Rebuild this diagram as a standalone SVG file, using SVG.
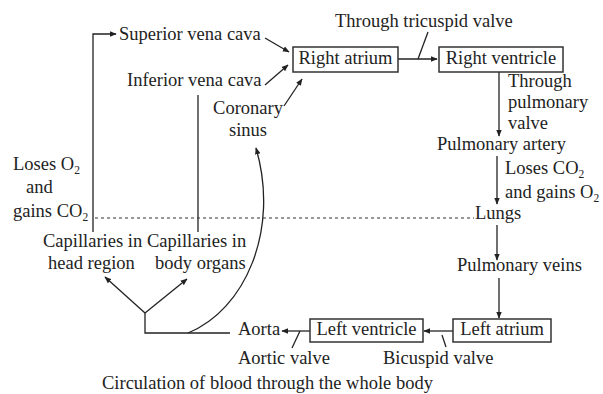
<svg xmlns="http://www.w3.org/2000/svg" width="603" height="394" viewBox="0 0 603 394">
<defs>
<marker id="ah" viewBox="0 0 10 10" refX="9" refY="5" markerWidth="7" markerHeight="7" markerUnits="userSpaceOnUse" orient="auto">
<path d="M0,1 L10,5 L0,9 Z" fill="#222"/>
</marker>
<style>
text{font-family:"Liberation Serif","Times New Roman",serif;font-size:18.5px;fill:#222}
.sub{font-size:11.5px}
.box{fill:#fff;stroke:#333;stroke-width:1.5}
.ln{fill:none;stroke:#222;stroke-width:1.3}
.arr{fill:none;stroke:#222;stroke-width:1.3;marker-end:url(#ah)}
.dot{fill:none;stroke:#333;stroke-width:1.2;stroke-dasharray:3,3}
</style>
</defs>
<rect width="603" height="394" fill="#fff"/>
<g id="connectors">
<path class="arr" d="M93,232 V34 H116"/>
<path class="ln" d="M198,95 V232"/>
<path class="arr" d="M265,38 L289,52"/>
<path class="arr" d="M265,85 L288,65"/>
<path class="arr" d="M284,106 L302,79"/>
<path class="arr" d="M398,59 L437,59"/>
<path class="ln" d="M428,32 L418,59"/>
<path class="arr" d="M499,72 V136"/>
<path class="arr" d="M497,156 V204"/>
<path class="arr" d="M497,225 V260"/>
<path class="arr" d="M499,278 V318"/>
<path class="arr" d="M453,331 H424"/>
<path class="ln" d="M442,335 L446,347"/>
<path class="arr" d="M310,331 H282"/>
<path class="ln" d="M300,331 L292,348"/>
<path class="ln" d="M230,333 H145 V313"/>
<path class="arr" d="M145,313 L105,277"/>
<path class="arr" d="M145,313 L187,279"/>
<path class="arr" d="M188,333 C245,310 280,230 256,148"/>
<path class="dot" d="M95,218 H474"/>
</g>
<g id="superior-vena-cava"><text x="119" y="40">Superior vena cava</text></g>
<g id="inferior-vena-cava"><text x="127" y="86">Inferior vena cava</text></g>
<g id="coronary-sinus"><text x="248" y="114" text-anchor="middle">Coronary</text><text x="248" y="136" text-anchor="middle">sinus</text></g>
<g id="right-atrium"><rect class="box" x="293" y="47" width="105" height="25"/><text x="345.5" y="64" text-anchor="middle">Right atrium</text></g>
<g id="right-ventricle"><rect class="box" x="439" y="47" width="124" height="25"/><text x="501" y="64" text-anchor="middle">Right ventricle</text></g>
<g id="tricuspid"><text x="335" y="27">Through tricuspid valve</text></g>
<g id="pulmonary-valve"><text x="508" y="87">Through</text><text x="508" y="108">pulmonary</text><text x="508" y="129">valve</text></g>
<g id="pulmonary-artery"><text x="437" y="150">Pulmonary artery</text></g>
<g id="lungs-exchange"><text x="505" y="174">Loses CO<tspan class="sub" dy="4">2</tspan></text><text x="505" y="198">and gains O<tspan class="sub" dy="4">2</tspan></text></g>
<g id="lungs"><text x="475" y="219">Lungs</text></g>
<g id="pulmonary-veins"><text x="457" y="271">Pulmonary veins</text></g>
<g id="left-atrium"><rect class="box" x="453" y="319" width="98" height="23"/><text x="502" y="335" text-anchor="middle">Left atrium</text></g>
<g id="left-ventricle"><rect class="box" x="310" y="319" width="113" height="23"/><text x="366.5" y="335" text-anchor="middle">Left ventricle</text></g>
<g id="bicuspid"><text x="383" y="364">Bicuspid valve</text></g>
<g id="aorta"><text x="238" y="335">Aorta</text></g>
<g id="aortic-valve"><text x="238" y="364">Aortic valve</text></g>
<g id="body-exchange"><text x="13" y="170">Loses O<tspan class="sub" dy="4">2</tspan></text><text x="26" y="193">and</text><text x="13" y="217">gains CO<tspan class="sub" dy="4">2</tspan></text></g>
<g id="capillaries-head"><text x="43" y="247">Capillaries in</text><text x="48" y="269">head region</text></g>
<g id="capillaries-body"><text x="147" y="247">Capillaries in</text><text x="155" y="269">body organs</text></g>
<g id="caption"><text x="102" y="389">Circulation of blood through the whole body</text></g>
</svg>
